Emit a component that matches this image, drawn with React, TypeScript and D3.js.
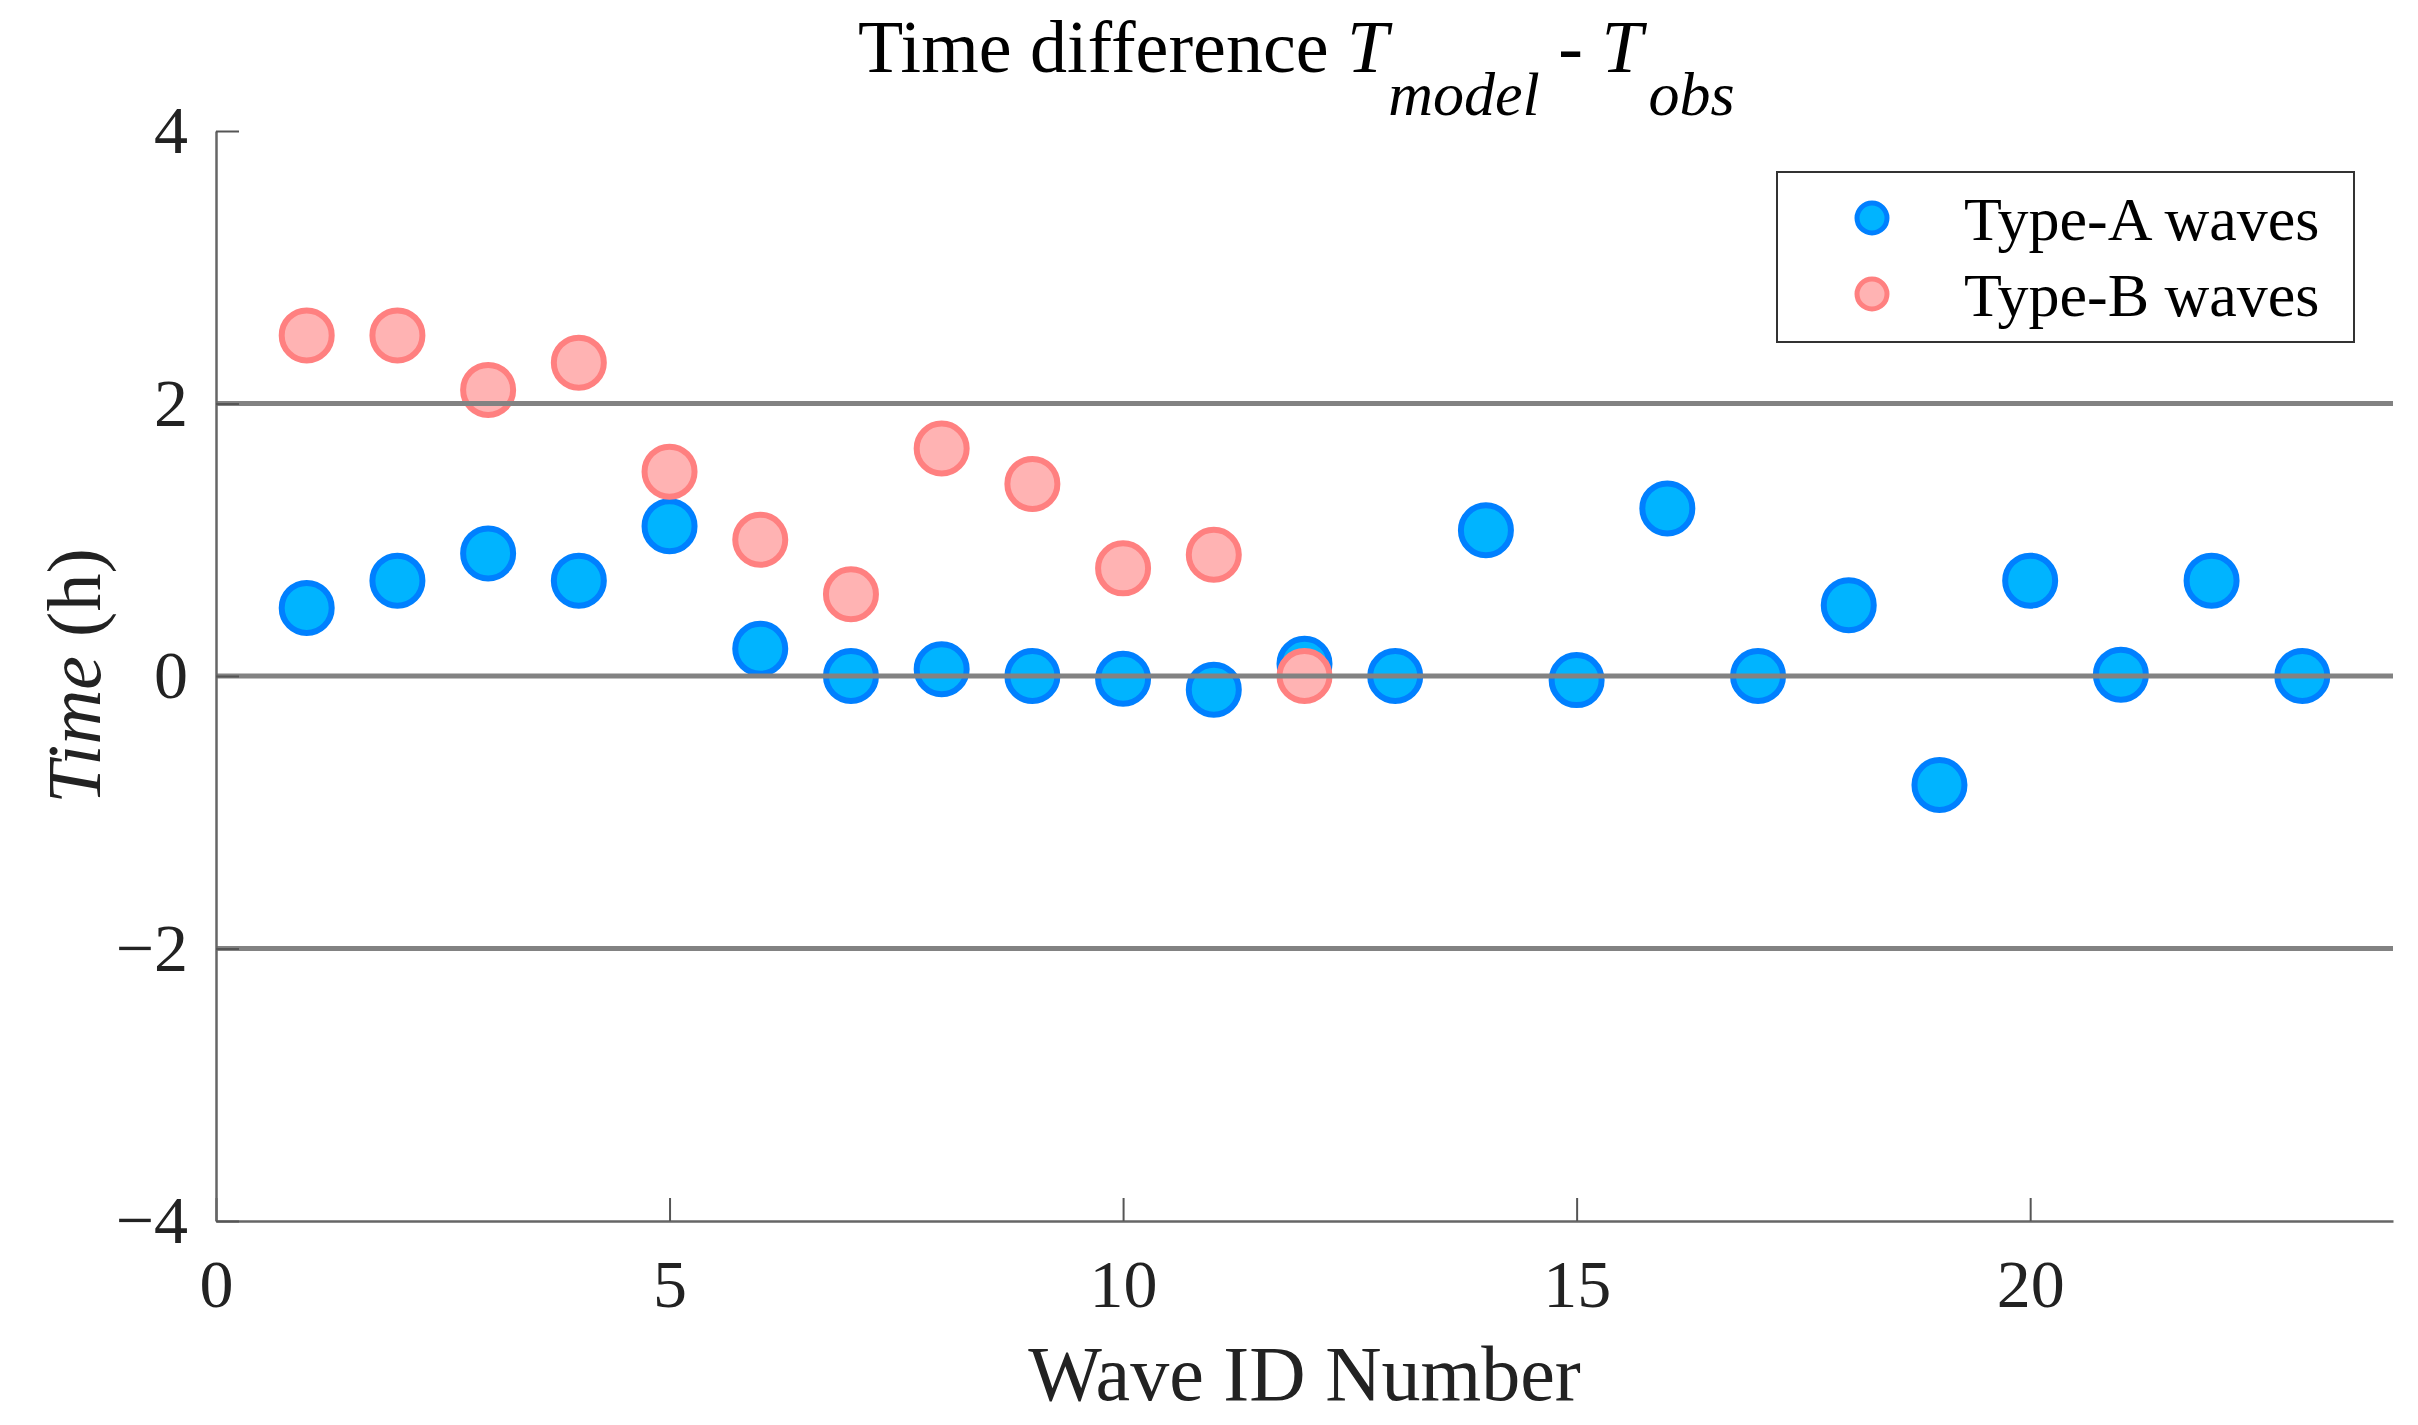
import React, { useEffect, useRef } from 'react';
import * as d3 from 'd3';

// wave ids and time differences (h)
const typeAIds = [1, 2, 3, 4, 5, 6, 7, 8, 9, 10, 11, 12, 13, 14, 15, 16, 17, 18, 19, 20, 21, 22, 23];
const typeAValues = [0.5, 0.7, 0.9, 0.7, 1.1, 0.2, 0.0, 0.05, 0.0, -0.02, -0.1, 0.09, 0.0, 1.07, -0.03, 1.23, 0.0, 0.52, -0.8, 0.7, 0.01, 0.7, 0.0];
const typeBIds = [1, 2, 3, 4, 5, 6, 7, 8, 9, 10, 11, 12];
const typeBValues = [2.5, 2.5, 2.1, 2.3, 1.5, 1.0, 0.6, 1.67, 1.41, 0.79, 0.89, 0.0];

const xTicks = [0, 5, 10, 15, 20];
const yTicks = [-4, -2, 0, 2, 4];
const refLines = [-2, 0, 2];

const legendItems = ['Type-A waves', 'Type-B waves'];

const FONT = '"Liberation Serif", "Times New Roman", serif';

const blue = { fill: '#00b4ff', stroke: '#0080ff' };
const pink = { fill: '#ffb3b3', stroke: '#ff8080' };

const App: React.FC = () => {
  const svgRef = useRef<SVGSVGElement>(null);

  useEffect(() => {
    if (!svgRef.current) return;
    const svg = d3.select(svgRef.current);
    svg.selectAll('*').remove();

    const width = 2418;
    const height = 1425;
    const margin = { left: 216, right: 25, top: 131, bottom: 204 };

    const x = d3.scaleLinear().domain([0, 24]).range([margin.left, width - margin.right]);
    const y = d3.scaleLinear().domain([-4, 4]).range([height - margin.bottom, margin.top]);

    svg.attr('width', width).attr('height', height);

    // markers: type A first, type B on top
    const drawSeries = (ids: number[], vals: number[], c: { fill: string; stroke: string }) => {
      svg.append('g')
        .selectAll('circle')
        .data(ids.map((id, i) => ({ id, v: vals[i] })))
        .enter()
        .append('circle')
        .attr('cx', d => x(d.id))
        .attr('cy', d => y(d.v))
        .attr('r', 25)
        .attr('fill', c.fill)
        .attr('stroke', c.stroke)
        .attr('stroke-width', 6);
    };
    drawSeries(typeAIds, typeAValues, blue);
    drawSeries(typeBIds, typeBValues, pink);

    // horizontal reference lines (drawn over the markers)
    svg.append('g')
      .selectAll('line')
      .data(refLines)
      .enter()
      .append('line')
      .attr('x1', x(0))
      .attr('x2', x(24))
      .attr('y1', d => y(d))
      .attr('y2', d => y(d))
      .attr('stroke', '#828282')
      .attr('stroke-width', 5);

    // x axis
    const xAxis = svg.append('g')
      .attr('transform', `translate(0,${y(-4)})`)
      .call(d3.axisBottom(x).tickValues(xTicks).tickSizeInner(-23).tickSizeOuter(0).tickPadding(38));
    // y axis
    const yAxis = svg.append('g')
      .attr('transform', `translate(${x(0)},0)`)
      .call(d3.axisLeft(y).tickValues(yTicks).tickSizeInner(-23).tickSizeOuter(0).tickPadding(28));

    [xAxis, yAxis].forEach(g => {
      g.select('.domain').attr('stroke', '#666').attr('stroke-width', 2.5);
      g.selectAll('.tick line').attr('stroke', '#555').attr('stroke-width', 2);
      g.selectAll('.tick text')
        .attr('fill', '#222')
        .attr('font-family', FONT)
        .attr('font-size', 68);
    });

    // title
    const title = svg.append('text')
      .attr('x', 858)
      .attr('y', 72)
      .attr('font-family', FONT)
      .attr('font-size', 74)
      .attr('fill', '#000');
    title.append('tspan').text('Time difference ');
    title.append('tspan').attr('font-style', 'italic').text('T');
    title.append('tspan').attr('font-style', 'italic').attr('font-size', 62).attr('dy', 43).text('model');
    title.append('tspan').attr('dy', -43).text(' - ');
    title.append('tspan').attr('font-style', 'italic').text('T');
    title.append('tspan').attr('font-style', 'italic').attr('font-size', 62).attr('dy', 43).attr('dx', 6).text('obs');

    // axis labels
    svg.append('text')
      .attr('x', (x(0) + x(24)) / 2)
      .attr('y', 1400)
      .attr('text-anchor', 'middle')
      .attr('font-family', FONT)
      .attr('font-size', 78)
      .attr('fill', '#222')
      .text('Wave ID Number');

    const yl = svg.append('text')
      .attr('transform', `translate(100,${(y(-4) + y(4)) / 2}) rotate(-90)`)
      .attr('text-anchor', 'middle')
      .attr('font-family', FONT)
      .attr('font-size', 76)
      .attr('fill', '#222');
    yl.append('tspan').attr('font-style', 'italic').text('Time');
    yl.append('tspan').text(' (h)');

    // legend
    const legend = svg.append('g');
    legend.append('rect')
      .attr('x', 1777)
      .attr('y', 172)
      .attr('width', 577)
      .attr('height', 170)
      .attr('fill', '#fff')
      .attr('stroke', '#333')
      .attr('stroke-width', 2);
    const colors = [blue, pink];
    legendItems.forEach((label, i) => {
      const cy = 218 + i * 76;
      legend.append('circle')
        .attr('cx', 1872)
        .attr('cy', cy)
        .attr('r', 15)
        .attr('fill', colors[i].fill)
        .attr('stroke', colors[i].stroke)
        .attr('stroke-width', 5);
      legend.append('text')
        .attr('x', 1964)
        .attr('y', cy + 22)
        .attr('font-family', FONT)
        .attr('font-size', 62)
        .attr('fill', '#000')
        .text(label);
    });
  }, []);

  return (
    <svg
      ref={svgRef}
      style={{ position: 'absolute', left: 0, top: 0, background: '#fff' }}
    ></svg>
  );
};

export default App;
